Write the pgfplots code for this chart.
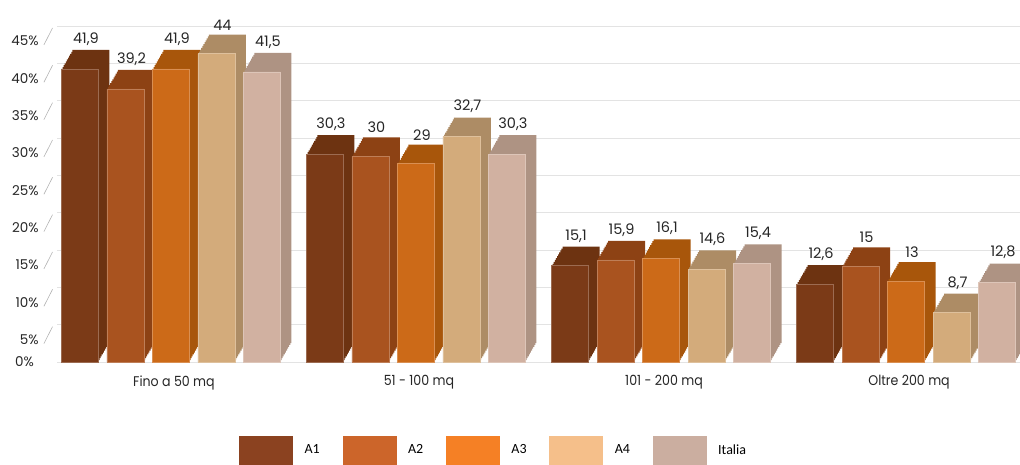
\documentclass[border=0pt]{standalone}
\usepackage{fontspec}
\setmainfont{Poppins}
\newfontfamily\catfont{Poppins}[FakeStretch=0.9]
\newfontfamily\carlito{Carlito}
\usepackage{graphicx}
\usepackage{pgfplots}
\usepackage{pgfplotstable}
\pgfplotsset{compat=1.18}
\definecolor{fA}{HTML}{7B3A17}\definecolor{tA}{HTML}{6D3311}
\definecolor{fB}{HTML}{A9531F}\definecolor{tB}{HTML}{8D4214}
\definecolor{fC}{HTML}{CC6A18}\definecolor{tC}{HTML}{A8560B}
\definecolor{fD}{HTML}{D3AB7B}\definecolor{tD}{HTML}{AD8C65}
\definecolor{fE}{HTML}{D1B1A1}\definecolor{tE}{HTML}{AE9383}
\definecolor{lA}{HTML}{8B4220}\definecolor{lB}{HTML}{CC652A}
\definecolor{lC}{HTML}{F58025}\definecolor{lD}{HTML}{F5BF8A}
\definecolor{lE}{HTML}{CBAEA0}
\definecolor{gridc}{HTML}{E3E3E3}
\definecolor{txt}{HTML}{262626}
\newcommand\tsl{\hspace{5pt}\textcolor{black!30}{\rotatebox[origin=c]{-27}{\rule{0.6pt}{19pt}}}}
\pgfplotstableread{
x A1 A2 A3 A4 IT
0 41.9 39.2 41.9 44 41.5
1 30.3 30 29 32.7 30.3
2 15.1 15.9 16.1 14.6 15.4
3 12.6 15 13 8.7 12.8
}\data
\newcommand\lf{\fontsize{13.5}{15}\selectfont}
\newcommand\vf{\fontsize{14.5}{16}\selectfont}
\newcommand\bars[4]{%
  \pgfplotsinvokeforeach{0.1,0.2,0.3,0.4,0.5,0.6,0.7,0.8,0.9}{\addplot[sh=##1, fill=#2, bar shift=#4] table[x=x,y=#1]{\data};}
  \addplot[sh=1, fill=#2, bar shift=#4, nodes near coords] table[x=x,y=#1]{\data};
  \addplot[fr, fill=#3, draw=#3!75!white, bar shift=#4] table[x=x,y=#1]{\data};
}
\begin{document}
\begin{tikzpicture}
\path[use as bounding box] (0,0) rectangle (1020pt,464pt);
\begin{axis}[at={(57pt,102pt)}, anchor=south west, scale only axis,
  width=963pt, height=336pt, xmin=0, xmax=1, ymin=0, ymax=45,
  axis line style={draw=none}, xtick=\empty, ytick={5,10,...,45},
  yticklabels={5\%\tsl,10\%\tsl,15\%\tsl,20\%\tsl,25\%\tsl,30\%\tsl,35\%\tsl,40\%\tsl,45\%\tsl},
  ymajorgrids, grid style={color=gridc, line width=0.8pt}, major tick length=0pt,
  yticklabel style={font=\lf, text=txt, anchor=east, inner xsep=0pt, xshift=-4pt, yshift=-11pt},
  extra y ticks={0}, extra y tick labels={0\%},
  extra y tick style={grid=major, yticklabel style={yshift=11pt, xshift=-19pt}},
]
\end{axis}
\begin{axis}[at={(57pt,102pt)}, anchor=south west, scale only axis,
  width=963pt, height=362pt, xmin=-0.465, xmax=3.465, ymin=1.975, ymax=51.3,
  axis line style={draw=none}, ytick=\empty, major tick length=0pt,
  xtick={0,1,2,3},
  xticklabels={Fino a 50 mq, 51 - 100 mq, 101 - 200 mq, Oltre 200 mq},
  xticklabel style={font=\catfont\fontsize{14}{16}\selectfont, text=txt, yshift=-10pt, xshift=3pt},
  clip=true, ybar, bar width=37pt,
  /pgf/number format/.cd, use comma, fixed, assume math mode=true, /pgfplots/.cd,
  every node near coord/.append style={font=\vf, text=txt, xshift=-5pt, yshift=1pt},
  sh/.style={forget plot, draw=none, xshift=#1*11pt, yshift=#1*19pt},
  fr/.style={forget plot, line width=0.5pt},
  legend style={at={(axis description cs:0.189,-0.243)}, anchor=west, draw=none, fill=none,
    legend columns=5, inner sep=0pt, font=\carlito\fontsize{14}{16}\selectfont,
    nodes={text width=50pt, align=left, inner xsep=0pt}},
  legend cell align=left,
]
\bars{A1}{tA}{fA}{-91pt}
\bars{A2}{tB}{fB}{-45.5pt}
\bars{A3}{tC}{fC}{0pt}
\bars{A4}{tD}{fD}{45.5pt}
\bars{IT}{tE}{fE}{91pt}
\addlegendimage{legend image code/.code={\fill[lA] (0pt,-14pt) rectangle (53pt,14pt);}}
\addlegendentry{\hspace*{12pt}A1}
\addlegendimage{legend image code/.code={\fill[lB] (0pt,-14pt) rectangle (53pt,14pt);}}
\addlegendentry{\hspace*{12pt}A2}
\addlegendimage{legend image code/.code={\fill[lC] (0pt,-14pt) rectangle (53pt,14pt);}}
\addlegendentry{\hspace*{12pt}A3}
\addlegendimage{legend image code/.code={\fill[lD] (0pt,-14pt) rectangle (53pt,14pt);}}
\addlegendentry{\hspace*{12pt}A4}
\addlegendimage{legend image code/.code={\fill[lE] (0pt,-14pt) rectangle (53pt,14pt);}}
\addlegendentry{\hspace*{12pt}Italia}
\end{axis}
\end{tikzpicture}
\end{document}
